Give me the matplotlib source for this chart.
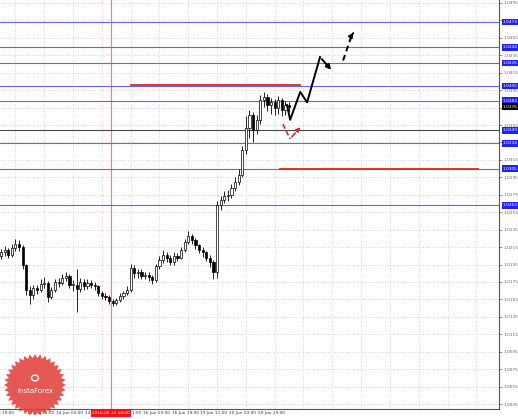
import numpy as np
import matplotlib.pyplot as plt
from matplotlib.patches import Polygon, Circle

# 2-hour candles (open = previous close)
first_open = 1.0205
closes = [1.0209, 1.0212, 1.0206, 1.0214, 1.0219, 1.0215, 1.0194, 1.0166, 1.0160, 1.0168,
          1.0166, 1.0173, 1.0174, 1.0158, 1.0166, 1.0175, 1.0174, 1.0180, 1.0182, 1.0172,
          1.0172, 1.0167, 1.0175, 1.0170, 1.0174, 1.0172, 1.0170, 1.0162, 1.0159, 1.0158,
          1.0153, 1.0151, 1.0154, 1.0159, 1.0162, 1.0166, 1.0191, 1.0185, 1.0186, 1.0182,
          1.0183, 1.0181, 1.0177, 1.0193, 1.0200, 1.0206, 1.0203, 1.0198, 1.0205, 1.0203,
          1.0212, 1.0221, 1.0228, 1.0223, 1.0217, 1.0212, 1.0209, 1.0203, 1.0198, 1.0186,
          1.0263, 1.0269, 1.0274, 1.0275, 1.0283, 1.0290, 1.0298, 1.0326, 1.0352, 1.0367,
          1.0349, 1.0361, 1.0384, 1.0387, 1.0378, 1.0381, 1.0375, 1.0384, 1.0372, 1.0378,
          1.0376]
highs = [1.0213, 1.0216, 1.0214, 1.0218, 1.0224, 1.0223, 1.0217, 1.0196, 1.0170, 1.0172,
         1.0172, 1.0178, 1.0181, 1.0176, 1.0169, 1.0178, 1.0180, 1.0184, 1.0186, 1.0184,
         1.0177, 1.0190, 1.0179, 1.0178, 1.0178, 1.0177, 1.0175, 1.0172, 1.0165, 1.0162,
         1.0160, 1.0156, 1.0157, 1.0162, 1.0165, 1.0170, 1.0196, 1.0194, 1.0190, 1.0190,
         1.0187, 1.0186, 1.0183, 1.0196, 1.0205, 1.0212, 1.0209, 1.0206, 1.0209, 1.0208,
         1.0215, 1.0224, 1.0233, 1.0230, 1.0226, 1.0219, 1.0215, 1.0211, 1.0206, 1.0200,
         1.0268, 1.0274, 1.0279, 1.0281, 1.0287, 1.0295, 1.0305, 1.0331, 1.0365, 1.0372,
         1.0370, 1.0366, 1.0390, 1.0393, 1.0391, 1.0386, 1.0385, 1.0388, 1.0386, 1.0382,
         1.0381]
lows = [1.0201, 1.0205, 1.0202, 1.0204, 1.0211, 1.0210, 1.0190, 1.0160, 1.0150, 1.0156,
        1.0161, 1.0163, 1.0168, 1.0152, 1.0155, 1.0163, 1.0169, 1.0172, 1.0176, 1.0168,
        1.0165, 1.0140, 1.0164, 1.0166, 1.0167, 1.0168, 1.0166, 1.0159, 1.0156, 1.0154,
        1.0150, 1.0147, 1.0149, 1.0152, 1.0156, 1.0160, 1.0164, 1.0180, 1.0180, 1.0178,
        1.0178, 1.0176, 1.0173, 1.0175, 1.0190, 1.0197, 1.0198, 1.0194, 1.0195, 1.0199,
        1.0201, 1.0209, 1.0218, 1.0219, 1.0213, 1.0208, 1.0204, 1.0199, 1.0192, 1.0178,
        1.0180, 1.0258, 1.0265, 1.0268, 1.0271, 1.0279, 1.0286, 1.0295, 1.0322, 1.0340,
        1.0335, 1.0345, 1.0356, 1.0376, 1.0371, 1.0368, 1.0366, 1.0368, 1.0365, 1.0367,
        1.0370]

price_labels = ["1.0495", "1.0475", "1.0455", "1.0435", "1.0415", "1.0395", "1.0375",
                "1.0355", "1.0335", "1.0315", "1.0295", "1.0275", "1.0255", "1.0235",
                "1.0215", "1.0195", "1.0175", "1.0155", "1.0135", "1.0115", "1.0095",
                "1.0075", "1.0055", "1.0035"]
time_labels = ["12 Jun 19:00", "13 Jun 11:00", "14 Jun 03:00", "14 Jun 19:00", "15 Jun 11:00",
               "16 Jun 03:00", "16 Jun 19:00", "19 Jun 11:00", "20 Jun 03:00", "20 Jun 19:00"]
time_bars = [-4.2, 6.8, 15, 23, 31, 39, 47, 55, 63, 71]
cursor_bar = 30.6
cursor_label = "2016.06.15 10:00"

blue_levels = [1.0473, 1.0444, 1.0426, 1.0400, 1.0383, 1.0349, 1.0334, 1.0305, 1.0263]
last_price = 1.0376
red_levels = [1.0401, 1.0304]
red_from = [36, 77.5]
red_to = [83, 132.5]

# forecast paths (bar, price)
fc_bars = [79.4, 80.3, 83.1, 85.0, 88.6, 92.2]
fc_prices = [1.0378, 1.0361, 1.0393, 1.0381, 1.0433, 1.0416]
fc2_bars = [95.0, 97.4]
fc2_prices = [1.0429, 1.0458]
alt_bars = [78.3, 80.3, 83.6]
alt_prices = [1.0356, 1.0339, 1.0355]

W, H = 518, 419
FS = 3.1
fig = plt.figure(figsize=(W / 100, H / 100), dpi=100)
ax = fig.add_axes([0, 10 / H, 499 / W, 409 / H])
ax.set_xlim(-0.28, 138.3)
ax.set_ylim(1.00293, 1.04984)

# grid
for t in range(-4, 140, 8):
    ax.axvline(t, color="#c8c8c8", lw=0.6, ls=(0, (1, 2)), zorder=0)
tick_vals = [float(s) for s in price_labels]
for v in tick_vals:
    ax.axhline(v, color="#c8c8c8", lw=0.6, ls=(0, (1, 2)), zorder=0)

ax.axvline(cursor_bar, color="#f08080", lw=0.8, zorder=1)

for lv in blue_levels:
    ax.axhline(lv, color="#6464f0", lw=0.8, zorder=1)
ax.axhline(1.0349, color="#444444", lw=0.7, zorder=1)

for lv, a, b in zip(red_levels, red_from, red_to):
    ax.plot([a, b], [lv, lv], color="#e8211d", lw=1.3, zorder=2)

# candles
opens = [first_open] + closes[:-1]
x = np.arange(len(closes))
ax.vlines(x, lows, highs, color="black", lw=0.6, zorder=3)
for i in range(len(closes)):
    o, c = opens[i], closes[i]
    face = "white" if c >= o else "black"
    ax.bar(x[i], max(abs(c - o), 0.00004), bottom=min(o, c), width=0.6,
           color=face, edgecolor="black", lw=0.5, zorder=4)

# forecast arrows
ax.plot(fc_bars[:-1], fc_prices[:-1], color="black", lw=1.4, zorder=5)
ax.annotate("", xy=(fc_bars[-1], fc_prices[-1]), xytext=(fc_bars[-2], fc_prices[-2]),
            arrowprops=dict(arrowstyle="-|>", color="black", lw=1.4, mutation_scale=7), zorder=5)
ax.plot(fc2_bars, fc2_prices, color="black", lw=1.4, ls=(0, (3, 2)), zorder=5)
ax.annotate("", xy=(fc2_bars[-1] + 0.5, fc2_prices[-1] + 0.0003), xytext=(fc2_bars[-1], fc2_prices[-1]),
            arrowprops=dict(arrowstyle="-|>", color="black", lw=1.2, mutation_scale=7), zorder=5)
ax.plot(alt_bars[:-1], alt_prices[:-1], color="#e8211d", lw=1.2, ls=(0, (3, 1.5)), zorder=5)
ax.annotate("", xy=(alt_bars[-1], alt_prices[-1]), xytext=(alt_bars[-2], alt_prices[-2]),
            arrowprops=dict(arrowstyle="-|>", color="#e8211d", lw=1.2, ls=(0, (3, 1.5)),
                            mutation_scale=6), zorder=5)

# axes frame
for s in ["top", "left"]:
    ax.spines[s].set_visible(False)
ax.spines["right"].set_color("#555555")
ax.spines["bottom"].set_color("#555555")
ax.spines["right"].set_linewidth(0.8)
ax.spines["bottom"].set_linewidth(0.8)
ax.set_xticks([])
ax.yaxis.tick_right()
ax.set_yticks(tick_vals)
ax.set_yticklabels(price_labels, fontsize=FS, color="#666666")
ax.tick_params(axis="y", length=2, width=0.5, pad=1.5, colors="#666666")

ytr = ax.get_yaxis_transform()
for lv in blue_levels:
    ax.text(1.008, lv, f"{lv:.4f}", transform=ytr, fontsize=FS, color="white",
            va="center", ha="left", clip_on=False, zorder=6,
            bbox=dict(boxstyle="square,pad=0.3", fc="#2222ee", ec="none"))
ax.text(1.008, last_price, f"{last_price:.4f}", transform=ytr, fontsize=FS, color="white",
        va="center", ha="left", clip_on=False, zorder=6,
        bbox=dict(boxstyle="square,pad=0.3", fc="black", ec="none"))

# time axis
xtr = ax.get_xaxis_transform()
for b, lab in zip(time_bars, time_labels):
    ax.text(b + 0.4, -0.006, lab, transform=xtr, fontsize=FS, color="#333333",
            va="top", ha="left", clip_on=False, zorder=7)
ax.text(cursor_bar, -0.006, cursor_label, transform=xtr, fontsize=FS, color="white",
        va="top", ha="center", clip_on=False, zorder=8,
        bbox=dict(boxstyle="square,pad=0.3", fc="#ff1010", ec="none"))

# InstaForex badge
cx, cy = 35 / W, (H - 385) / H
n = 36
ang = np.linspace(0, 2 * np.pi, 2 * n, endpoint=False)
rad = np.where(np.arange(2 * n) % 2 == 0, 31, 27)
pts = np.column_stack([cx + rad * np.cos(ang) / W, cy + rad * np.sin(ang) / H])
fig.patches.append(Polygon(pts, closed=True, transform=fig.transFigure,
                           fc="#e23b36", ec="none", alpha=0.85, zorder=6))
fig.patches.append(Circle((cx, cy + 7 / H), 3.5 / W, transform=fig.transFigure,
                          fc="none", ec="white", lw=1.0, zorder=7))
fig.text(cx, cy - 6 / H, "InstaForex", color="white", fontsize=5.0,
         ha="center", va="center", zorder=7)

fig.savefig("out.png", dpi=100)
